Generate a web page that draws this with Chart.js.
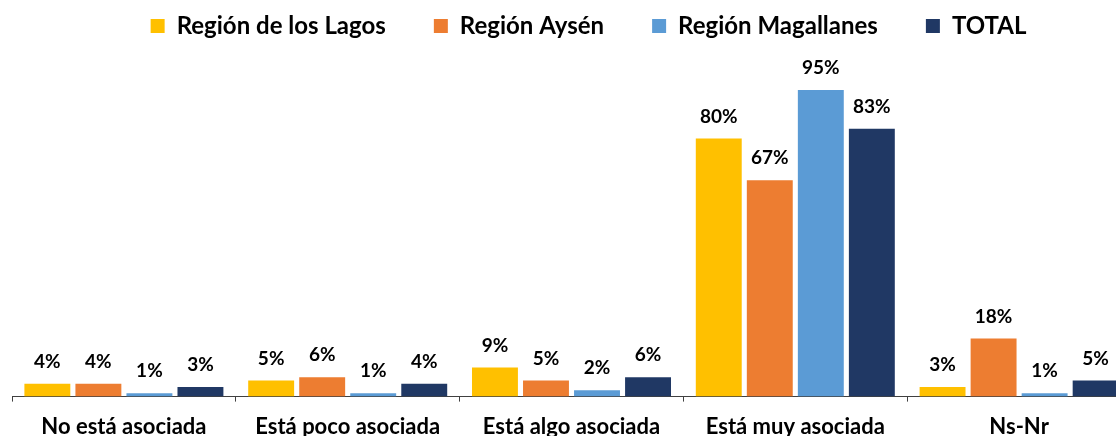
<!DOCTYPE html>
<html>
<head>
<meta charset="utf-8">
<script src="https://cdn.jsdelivr.net/npm/chart.js@4"></script>
<style>
  html, body { margin: 0; padding: 0; background: #fff; overflow: hidden; }
  #wrap { width: 1172px; height: 436px; }
</style>
</head>
<body>
<div id="wrap"><canvas id="chart" width="1172" height="436"></canvas></div>
<script>
    "use strict";

    // categorias y valores (%)
    var categories = ['No está asociada', 'Está poco asociada', 'Está algo asociada', 'Está muy asociada', 'Ns-Nr'];
    var lagos = [4, 5, 9, 80, 3];
    var aysen = [4, 6, 5, 67, 18];
    var magallanes = [1, 1, 2, 95, 1];
    var total = [3, 4, 6, 83, 5];

    var seriesNames = ['Región de los Lagos', 'Región Aysén', 'Región Magallanes', 'TOTAL'];
    var seriesColors = ['#FFC000', '#ED7D31', '#5B9BD5', '#203864'];
    var FONT = 'Lato, "Open Sans", sans-serif';

    // etiquetas encima de cada barra
    var barLabels = {
        id: 'barLabels',
        afterDatasetsDraw: function (chart) {
            var ctx = chart.ctx;
            ctx.save();
            ctx.font = 'bold 19px ' + FONT;
            ctx.fillStyle = '#000';
            ctx.textAlign = 'center';
            ctx.textBaseline = 'middle';
            chart.data.datasets.forEach(function (ds, i) {
                chart.getDatasetMeta(i).data.forEach(function (bar, j) {
                    ctx.fillText(ds.data[j] + '%', bar.x, bar.y - 22);
                });
            });
            ctx.restore();
        }
    };

    // la leyenda del original esta un poco corrida a la derecha
    var legendShift = {
        id: 'legendShift',
        afterLayout: function (chart) {
            if (chart.legend) {
                chart.legend.left += 17;
                chart.legend.right += 17;
            }
        }
    };

    var series = [lagos, aysen, magallanes, total];
    var datasets = series.map(function (values, i) {
        return {
            label: seriesNames[i],
            data: values,
            backgroundColor: seriesColors[i],
            categoryPercentage: 0.912,
            barPercentage: 0.9
        };
    });

    var ctx = document.getElementById('chart').getContext('2d');
    var chart = new Chart(ctx, {
        type: 'bar',
        data: { labels: categories, datasets: datasets },
        options: {
            responsive: false,
            animation: false,
            devicePixelRatio: 1,
            layout: { padding: { left: 12, right: 41, top: -34, bottom: -16 } },
            plugins: {
                legend: {
                    position: 'top',
                    labels: {
                        boxWidth: 14,
                        boxHeight: 14,
                        padding: 48,
                        color: '#000',
                        font: { family: FONT, size: 24, weight: 'bold' }
                    }
                },
                tooltip: { enabled: false }
            },
            scales: {
                x: {
                    grid: { display: true, drawOnChartArea: false, tickLength: 5, color: '#404040', offset: true },
                    border: { display: true, color: '#404040', width: 1 },
                    ticks: {
                        color: '#000',
                        padding: 12,
                        font: { family: FONT, size: 22, weight: 'bold' }
                    }
                },
                y: {
                    display: false,
                    min: 0,
                    max: 108
                }
            }
        },
        plugins: [barLabels, legendShift]
    });
</script>
</body>
</html>
